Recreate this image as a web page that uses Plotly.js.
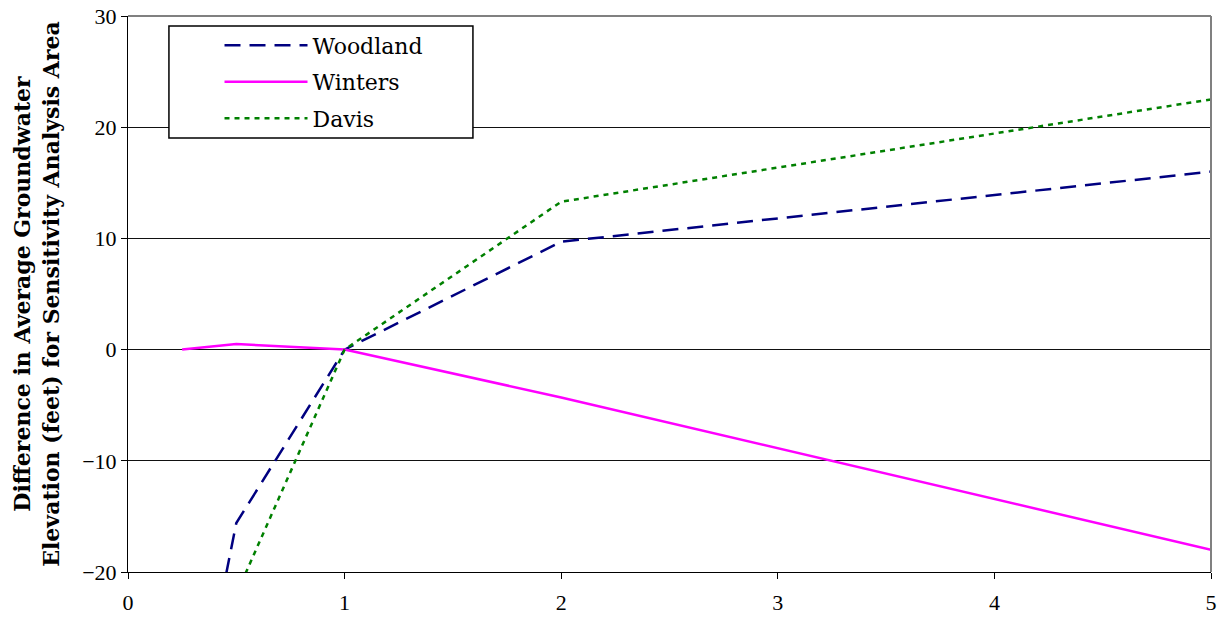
<!DOCTYPE html>
<html>
<head>
<meta charset="utf-8">
<script src="https://cdn.plot.ly/plotly-3.0.1.min.js"></script>
<style>html,body{margin:0;padding:0;background:#fff;}#chart{width:1224px;height:618px;}</style>
</head>
<body>
<div id="chart"></div>
<script>
const xValues = [0.25, 0.5, 1, 2, 5];
const woodland = [-40, -15.6, 0, 9.7, 16];
const winters = [0, 0.5, 0, -4.3, -18];
const davis = [-40, -22, 0, 13.3, 22.5];
const seriesNames = ["Woodland", "Winters", "Davis"];
const yTitle = "Difference in Average Groundwater<br>Elevation (feet) for Sensitivity Analysis Area";

const traces = [
  {x: xValues, y: woodland, name: seriesNames[0], legendgroup: "a", mode: "lines", line: {color: "#000080", width: 2.5, dash: "16px,9px"}},
  {x: xValues, y: winters, name: seriesNames[1], legendgroup: "b", mode: "lines", line: {color: "#FF00FF", width: 2.5}},
  {x: xValues, y: davis, name: seriesNames[2], legendgroup: "c", mode: "lines", line: {color: "#008000", width: 2.5, dash: "5px,5px"}}
];

const layout = {
  width: 1224, height: 618,
  margin: {l: 128, r: 13, t: 16, b: 46},
  paper_bgcolor: "#fff", plot_bgcolor: "#fff",
  font: {family: "'Liberation Serif', 'Times New Roman', serif", color: "#000", size: 22},
  showlegend: true,
  legend: {
    x: 0.0845, y: 0.985, xanchor: "left", yanchor: "top",
    bgcolor: "rgba(0,0,0,0)", borderwidth: 0,
    font: {family: "'DejaVu Serif', serif", size: 22},
    itemwidth: 83, tracegroupgap: 5
  },
  xaxis: {
    range: [0, 5], dtick: 1, tick0: 0,
    showgrid: false, zeroline: false,
    showline: true, linecolor: "#000", linewidth: 1, mirror: false,
    ticks: "outside", ticklen: 6, tickcolor: "#000",
    ticklabelstandoff: 5,
    tickfont: {size: 22, family: "'Liberation Serif', 'Times New Roman', serif"}
  },
  yaxis: {
    range: [-20, 30], dtick: 10, tick0: 0,
    showgrid: true, gridcolor: "#111", gridwidth: 1,
    zeroline: false,
    showline: true, linecolor: "#000", linewidth: 1,
    ticks: "outside", ticklen: 6, tickcolor: "#000",
    tickfont: {size: 22, family: "'Liberation Serif', 'Times New Roman', serif"},
    title: {text: yTitle, font: {size: 22, family: "'DejaVu Serif', serif", weight: "bold"}, standoff: 16}
  },
  shapes: [
    {type: "line", xref: "paper", yref: "paper", x0: 0, x1: 1, y0: 1, y1: 1, line: {color: "#808080", width: 2}},
    {type: "line", xref: "paper", yref: "paper", x0: 1, x1: 1, y0: 0, y1: 1, line: {color: "#808080", width: 2}},
    {type: "rect", xref: "paper", yref: "paper", layer: "above",
     x0: 0.0378, x1: 0.3185, y0: 0.7806, y1: 0.982,
     fillcolor: "#fff", line: {color: "#000", width: 1.5}}
  ]
};

Plotly.newPlot("chart", traces, layout, {displayModeBar: false, staticPlot: true});
</script>
</body>
</html>
